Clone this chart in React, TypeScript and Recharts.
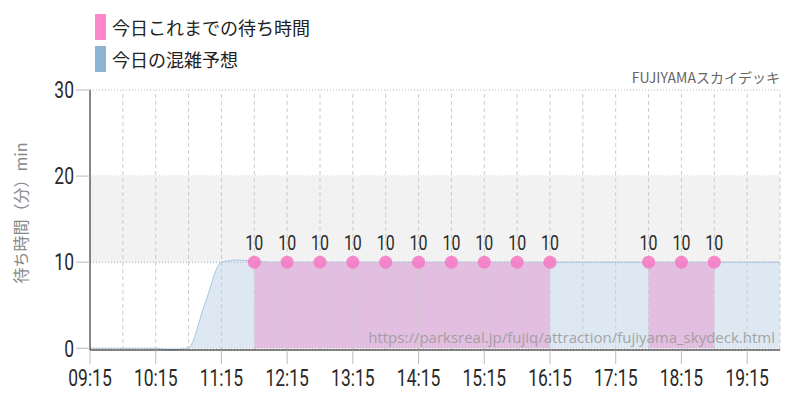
import {
  ComposedChart,
  Area,
  XAxis,
  YAxis,
  CartesianGrid,
  ReferenceArea,
  ReferenceLine,
  LabelList,
} from 'recharts'

// minutes since midnight
const forecastTimes = [
  555, 570, 585, 600, 615, 630, 645, 660, 675, 690, 705, 720, 750, 780, 840, 900, 960, 1020, 1080,
  1140, 1185,
]
const forecastValues = [
  0, 0, 0, 0, 0, -0.2, 0.1, 5.2, 10, 10.25, 10.15, 10, 10, 10, 10, 10, 10, 10, 10, 10, 10,
]

const actualTimes = [
  705, 735, 765, 795, 825, 855, 885, 915, 945, 975, 1005, 1035, 1065, 1095, 1125,
]
const actualValues = [10, 10, 10, 10, 10, 10, 10, 10, 10, 10, null, null, 10, 10, 10]

const tickTimes = [555, 615, 675, 735, 795, 855, 915, 975, 1035, 1095, 1155]
const gridTimes = [585, 615, 645, 675, 705, 735, 765, 795, 825, 855, 885, 915, 945, 975, 1005, 1035, 1065, 1095, 1125, 1155, 1185]
const yTicks = [0, 10, 20, 30]

const legendItems = [
  { label: '今日これまでの待ち時間', color: '#ff88cc' },
  { label: '今日の混雑予想', color: '#8fb3d3' },
]

const forecastData = forecastTimes.map((t, i) => ({ t, forecast: forecastValues[i] }))
const actualData = actualTimes.map((t, i) => ({ t, actual: actualValues[i] }))

const condensed = 'Roboto, sans-serif'

function fmtTime(m: number): string {
  const h = Math.floor(m / 60)
  const mm = m % 60
  return `${String(h).padStart(2, '0')}:${String(mm).padStart(2, '0')}`
}

// narrow text, the reference uses a condensed face
function NarrowText({ x, y, text, anchor, dy, size }: any) {
  return (
    <g transform={`translate(${x},${y})`}>
      <text
        transform="scale(0.76,1)"
        textAnchor={anchor}
        dy={dy}
        fontSize={size}
        fill="#2a2a2a"
        fontFamily={condensed}
      >
        {text}
      </text>
    </g>
  )
}

const XTick = (p: any) => (
  <NarrowText x={p.x} y={p.y} text={fmtTime(p.payload.value)} anchor="middle" dy="0.85em" size={23} />
)
const YTick = (p: any) => (
  <NarrowText x={p.x} y={p.y} text={p.payload.value} anchor="end" dy="0.36em" size={23} />
)
const PointLabel = (p: any) =>
  p.value == null ? null : (
    <NarrowText x={p.x} y={p.y - 12} text={p.value} anchor="middle" dy="0" size={21} />
  )

export default function App() {
  return (
    <div style={{ position: 'absolute', left: 0, top: 0, width: 800, height: 400, background: '#fff', fontFamily: '"Noto Sans CJK JP", sans-serif' }}>
      <div style={{ position: 'absolute', left: 95, top: 14 }}>
        {legendItems.map((it) => (
          <div key={it.label} style={{ display: 'flex', alignItems: 'center', height: 26, marginBottom: 6 }}>
            <div style={{ width: 11, height: 26, background: it.color, marginRight: 6 }} />
            <span style={{ fontSize: 18, color: '#222' }}>{it.label}</span>
          </div>
        ))}
      </div>
      <div style={{ position: 'absolute', right: 20, top: 67, fontSize: 14, color: '#666' }}>
        FUJIYAMAスカイデッキ
      </div>
      <div
        style={{
          position: 'absolute',
          left: 20,
          top: 213,
          transform: 'translate(-50%, -50%) rotate(-90deg)',
          whiteSpace: 'nowrap',
          fontSize: 16,
          color: '#888',
        }}
      >
        待ち時間（分）min
      </div>
      <ComposedChart
        width={800}
        height={400}
        margin={{ top: 90, right: 20, bottom: 0, left: 0 }}
      >
        <ReferenceArea y1={10} y2={20} fill="#f2f2f2" fillOpacity={1} stroke="none" />
        <CartesianGrid vertical={false} stroke="#bbb" strokeDasharray="1 2" />
        {gridTimes.map((g) => (
          <ReferenceLine key={g} x={g} stroke="#ccc" strokeDasharray="4 3" />
        ))}
        <XAxis
          dataKey="t"
          type="number"
          domain={[555, 1185]}
          ticks={tickTimes}
          allowDuplicatedCategory={false}
          stroke="#111"
          tickLine={{ stroke: '#bbb' }}
          tickSize={14}
          height={50}
          tick={XTick}
        />
        <YAxis
          type="number"
          domain={[0, 30]}
          ticks={yTicks}
          stroke="#111"
          tickLine={{ stroke: '#bbb' }}
          tickSize={14}
          width={90}
          tick={YTick}
        />
        <Area
          data={forecastData}
          dataKey="forecast"
          type="monotone"
          fill="#dde8f2"
          fillOpacity={1}
          stroke="#a9c6df"
          strokeWidth={1}
          dot={false}
          activeDot={false}
          isAnimationActive={false}
        />
        <Area
          data={actualData}
          dataKey="actual"
          type="linear"
          fill="#e2bfe0"
          fillOpacity={1}
          stroke="none"
          connectNulls={false}
          dot={{ r: 6.5, fill: '#f57cc5', fillOpacity: 0.9, stroke: 'none' }}
          activeDot={false}
          isAnimationActive={false}
        >
          <LabelList dataKey="actual" content={PointLabel} />
        </Area>
        <ReferenceLine y={10} stroke="#a9b6cc" strokeDasharray="1 2" />
      </ComposedChart>
      <div
        style={{
          position: 'absolute',
          right: 25,
          top: 327,
          fontSize: 15,
          color: '#999',
          opacity: 0.85,
          fontFamily: '"Open Sans", sans-serif',
        }}
      >
        https://parksreal.jp/fujiq/attraction/fujiyama_skydeck.html
      </div>
    </div>
  )
}
